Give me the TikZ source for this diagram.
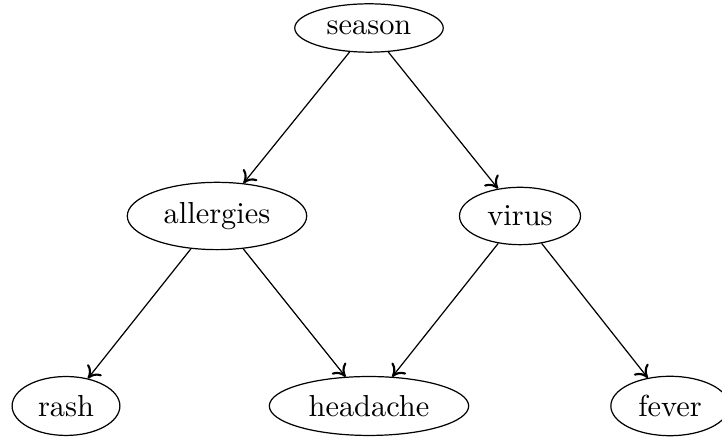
\documentclass[tikz,border=0pt]{standalone}
\usetikzlibrary{shapes.geometric,arrows.meta}
\begin{document}
\begin{tikzpicture}[x=0.329pt,y=-0.329pt,
  var/.style={draw,ellipse,inner sep=0.333em},
  dep/.style={-{Computer Modern Rightarrow[length=3.8pt,width=6pt,line width=0.7pt]}}]
\useasboundingbox (0,0) rectangle (722,437);
\node[var] (season)    at (369,28)  {season};
\node[var] (allergies) at (217,216) {allergies};
\node[var] (virus)     at (520,216) {virus};
\node[var] (rash)      at (66,406)  {rash};
\node[var] (headache)  at (369,406) {headache};
\node[var] (fever)     at (670,406) {fever};
\draw[dep] (season) -- (allergies);
\draw[dep] (season) -- (virus);
\draw[dep] (allergies) -- (rash);
\draw[dep] (allergies) -- (headache);
\draw[dep] (virus) -- (headache);
\draw[dep] (virus) -- (fever);
\end{tikzpicture}
\end{document}
